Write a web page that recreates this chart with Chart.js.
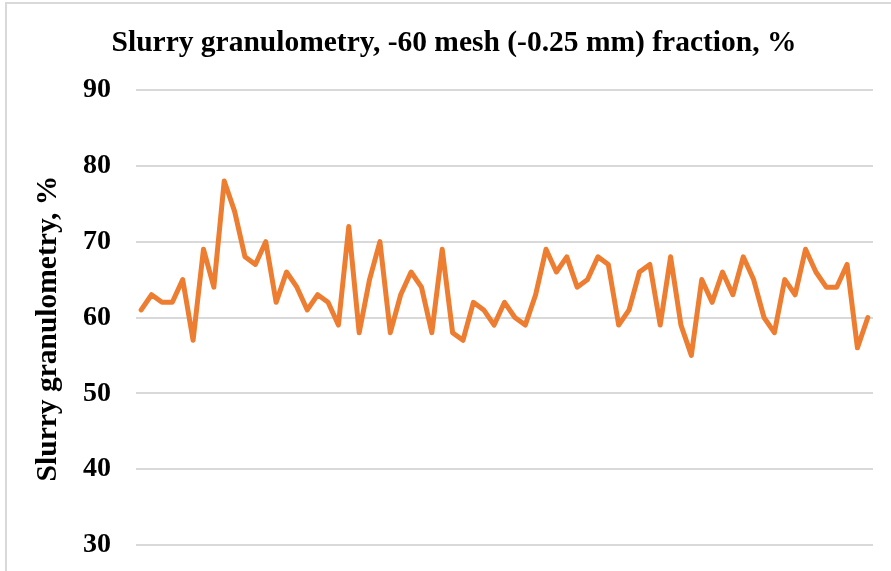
<!DOCTYPE html>
<html lang="en">
<head>
  <meta charset="UTF-8">
  <title>Slurry granulometry</title>
  <script src="https://cdn.jsdelivr.net/npm/chart.js"></script>
  <style>
    body, html {
      margin: 0;
      width: 891px;
      height: 571px;
      overflow: hidden;
      background: white;
    }
    .frame {
      position: absolute;
      left: 5px;
      top: 2px;
      width: 1000px;
      height: 1000px;
      border-left: 2px solid #d9d9d9;
      border-top: 2px solid #d9d9d9;
    }
    .wrap {
      position: absolute;
      left: 0;
      top: 0;
      width: 891px;
      height: 571px;
    }
  </style>
</head>
<body>
  <div class="frame"></div>
  <div class="wrap"><canvas id="chart"></canvas></div>

  <script>
    const chartTitle = "Slurry granulometry, -60 mesh (-0.25 mm) fraction, %";
    // trailing spaces nudge the rotated title down a bit, like the original
    const yTitle = "Slurry granulometry, %   ";

    // one value per sample
    const granulometry = [
      61, 63, 62, 62, 65, 57, 69, 64, 78, 74, 68, 67, 70, 62, 66, 64, 61, 63, 62, 59, 72, 58, 65, 70,
      58, 63, 66, 64, 58, 69, 58, 57, 62, 61, 59, 62, 60, 59, 63, 69, 66, 68, 64, 65, 68, 67, 59,
      61, 66, 67, 59, 68, 59, 55, 65, 62, 66, 63, 68, 65, 60, 58, 65, 63, 69, 66, 64, 64, 67, 56, 60
    ];
    const samples = granulometry.map((v, i) => String(i + 1));

    const yMin = 30;
    const yMax = 90;
    const yStep = 10;

    const serif = "'Liberation Serif', 'Times New Roman', serif";

    new Chart(document.getElementById("chart"), {
      type: "line",
      data: {
        labels: samples,
        datasets: [{
          label: yTitle.trim(),
          data: granulometry,
          borderColor: "#ED7D31",
          borderWidth: 5,
          borderJoinStyle: "round",
          borderCapStyle: "round",
          pointRadius: 0,
          tension: 0,
          fill: false
        }]
      },
      options: {
        responsive: true,
        maintainAspectRatio: false,
        animation: false,
        layout: {
          padding: { left: 35, right: 18, top: 0, bottom: 26 }
        },
        plugins: {
          legend: { display: false },
          tooltip: { enabled: false },
          title: {
            display: true,
            text: chartTitle,
            color: "#000",
            font: { family: serif, size: 29.5, weight: "bold" },
            padding: { top: 25.3, bottom: 29.3 }
          }
        },
        scales: {
          x: {
            display: false,
            offset: true
          },
          y: {
            min: yMin,
            max: yMax,
            ticks: {
              stepSize: yStep,
              color: "#000",
              padding: 25,
              font: { family: serif, size: 28, weight: "bold" }
            },
            grid: {
              color: "#d9d9d9",
              lineWidth: 2,
              drawTicks: false
            },
            border: { display: false },
            title: {
              display: true,
              text: yTitle,
              color: "#000",
              font: { family: serif, size: 29.5, weight: "bold", lineHeight: 0.9 },
              padding: { top: 0, bottom: 0 }
            },
            afterFit: scale => {
              scale.width = 101;
              scale.paddingTop = 0;
              scale.paddingBottom = 0;
            }
          }
        }
      }
    });
  </script>
</body>
</html>
